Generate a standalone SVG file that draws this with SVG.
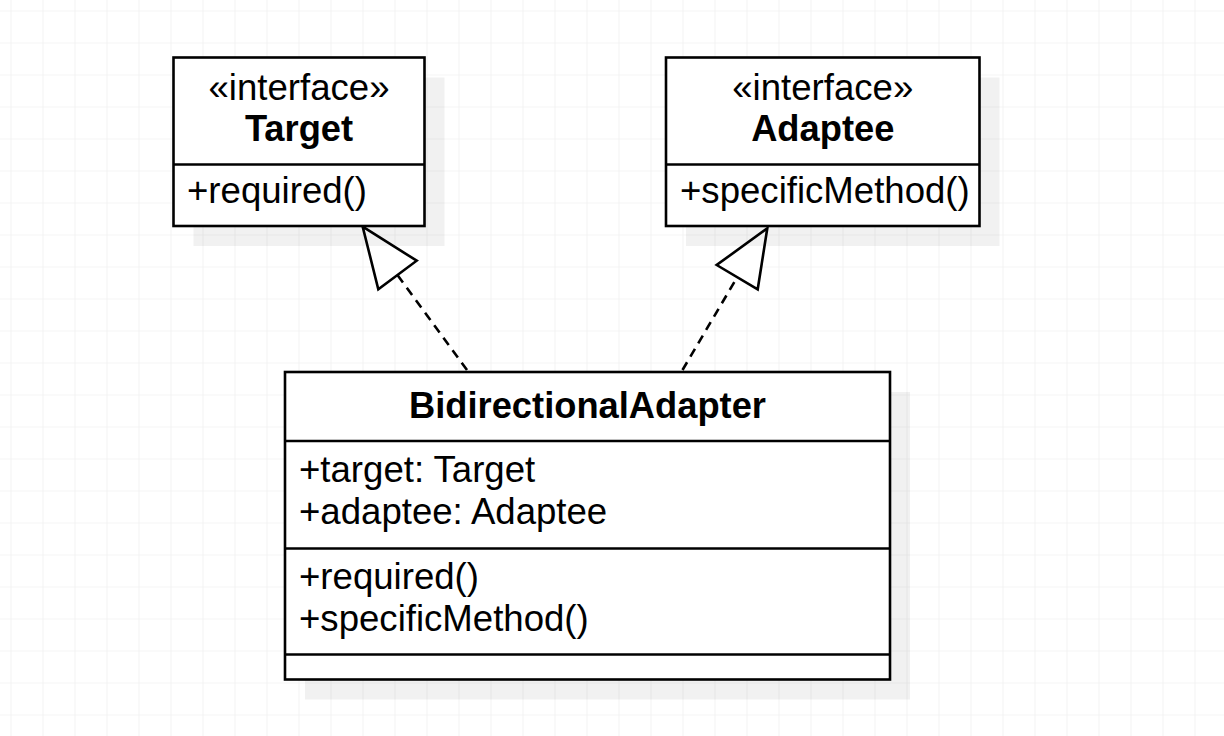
<svg xmlns="http://www.w3.org/2000/svg" width="1224" height="736" viewBox="0 0 1224 736">
<defs>
<pattern id="grid" x="10.5" y="10.5" width="32" height="32" patternUnits="userSpaceOnUse">
<path d="M0 0H32M0 0V32" fill="none" stroke="#ebebeb" stroke-width="1.2"/>
</pattern>
</defs>
<style>
.box{fill:#fff;stroke:#000;stroke-width:2.6}
.div{stroke:#000;stroke-width:2.6}
.shadow{fill:#000;fill-opacity:0.055}
.t{font-family:"Liberation Sans",Arial,sans-serif;font-size:36.6px;fill:#000}
.b{font-weight:bold;font-size:36.3px}
.c{text-anchor:middle}
.edge{fill:none;stroke:#000;stroke-width:2.6;stroke-dasharray:9 6.5}
.head{fill:#fff;stroke:#000;stroke-width:2.6;stroke-linejoin:miter}
</style>
<rect width="1224" height="736" fill="#fff"/>
<rect width="1224" height="736" fill="url(#grid)"/>

<g id="connectors">
<path class="edge" d="M467 370 L397.5 275"/>
<polygon class="head" points="362.7,226.7 416.7,260.7 378.3,289.3"/>
<path class="edge" d="M682.5 370 L737.2 277.2"/>
<polygon class="head" points="767.3,228.3 716.7,265 757.7,289.3"/>
</g>

<g id="target">
<rect class="shadow" x="193.5" y="77.5" width="251" height="168.5"/>
<rect class="box" x="173.5" y="57.5" width="251" height="168.5"/>
<line class="div" x1="173.5" y1="164.5" x2="424.5" y2="164.5"/>
<text class="t c" x="299" y="100">«interface»</text>
<text class="t b c" x="299" y="141">Target</text>
<text class="t" x="187" y="203">+required()</text>
</g>

<g id="adaptee">
<rect class="shadow" x="686" y="77.5" width="313.5" height="168.5"/>
<rect class="box" x="666" y="57.5" width="313.5" height="168.5"/>
<line class="div" x1="666" y1="164.5" x2="979.5" y2="164.5"/>
<text class="t c" x="822.75" y="100">«interface»</text>
<text class="t b c" x="822.75" y="141">Adaptee</text>
<text class="t" x="680" y="203">+specificMethod()</text>
</g>

<g id="bidirectionalAdapter">
<rect class="shadow" x="305" y="392" width="605" height="307.5"/>
<rect class="box" x="285" y="372" width="605" height="307.5"/>
<line class="div" x1="285" y1="441" x2="890" y2="441"/>
<line class="div" x1="285" y1="548.5" x2="890" y2="548.5"/>
<line class="div" x1="285" y1="654.5" x2="890" y2="654.5"/>
<text class="t b c" x="587.5" y="418">BidirectionalAdapter</text>
<text class="t" x="299" y="482">+target: Target</text>
<text class="t" x="299" y="524">+adaptee: Adaptee</text>
<text class="t" x="299" y="589">+required()</text>
<text class="t" x="299" y="631">+specificMethod()</text>
</g>
</svg>
